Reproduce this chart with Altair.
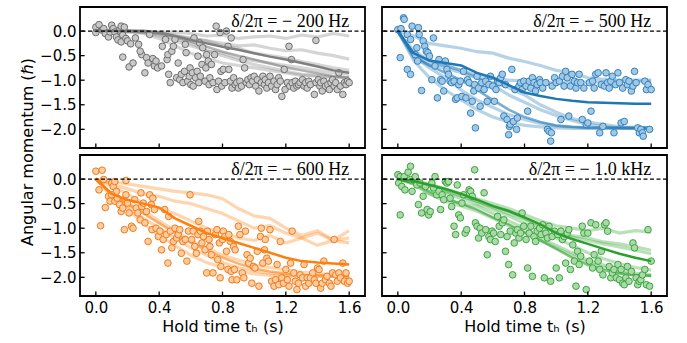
import altair as alt
import pandas as pd

# ---------------- data ----------------
T_GRID = [0.0, 0.1, 0.2, 0.3, 0.4, 0.5, 0.6, 0.7, 0.8, 0.9, 1.0, 1.1, 1.2, 1.3, 1.4, 1.5, 1.6]

PANELS = ["p200", "p500", "p600", "p1k"]
LABELS = {"p200": "δ/2π = − 200 Hz", "p500": "δ/2π = − 500 Hz",
          "p600": "δ/2π = − 600 Hz", "p1k": "δ/2π = − 1.0 kHz"}
ROW = {"p200": 0, "p500": 0, "p600": 1, "p1k": 1}
COL = {"p200": 0, "p500": 1, "p600": 0, "p1k": 1}

PTS_200 = [
    (0.0, 0.08), (0.02, 0.13), (0.0, -0.03), (0.04, 0.02), (0.05, 0.05), (0.06, -0.05), (0.08, -0.12),
    (0.09, -0.02), (0.1, 0.12), (0.11, 0.05), (0.12, -0.02), (0.13, -0.12), (0.14, -0.18), (0.15, 0.02),
    (0.16, 0.1), (0.16, -0.22), (0.17, -0.08), (0.18, 0.08), (0.19, -0.15), (0.2, -0.2),
    (0.17, -0.53), (0.21, -0.73), (0.235, -0.65), (0.22, -0.26), (0.25, -0.14), (0.27, -0.27), (0.29, -0.48),
    (0.28, -0.41), (0.31, -0.85), (0.32, -0.54), (0.33, -0.65), (0.34, -0.07), (0.36, -0.56), (0.37, -0.71),
    (0.38, -0.61), (0.39, -0.75), (0.415, -0.71), (0.42, -0.31), (0.44, -0.17), (0.45, -0.58), (0.455, -0.48),
    (0.46, -0.88), (0.47, -1.05), (0.48, -0.41), (0.49, -0.31), (0.5, -0.17), (0.51, -0.95), (0.52, -0.65),
    (0.53, -0.99), (0.54, -0.88), (0.55, -1.05), (0.56, -0.82), (0.565, -0.27), (0.57, -0.44), (0.58, -1.02),
    (0.59, -0.92), (0.595, -0.75), (0.6, -1.09), (0.61, -0.85), (0.615, -1.12), (0.62, -0.14), (0.63, -0.95),
    (0.64, -0.82), (0.645, -0.51), (0.65, -1.05), (0.655, -0.24), (0.66, -0.92), (0.67, -0.68), (0.675, -0.34),
    (0.69, -1.02), (0.695, -0.75), (0.7, -0.48), (0.71, -0.61), (0.715, -1.09), (0.72, -0.95), (0.73, -0.68),
    (0.74, -1.05), (0.75, -0.48), (0.76, 0.1), (0.765, -1.19), (0.775, -1.02), (0.785, -0.03), (0.79, -0.82),
    (0.795, -1.12), (0.805, -0.78), (0.815, -1.05), (0.825, 0.0), (0.835, -0.31), (0.84, -0.78), (0.85, -1.02),
    (0.855, -0.14), (0.86, -1.16), (0.87, -0.95), (0.88, -1.09), (0.89, -1.05), (0.9, -1.16), (0.91, -1.02),
    (0.92, -1.12), (0.93, -0.58), (0.94, -0.75), (0.95, -1.05), (0.96, -0.99), (0.97, -1.09), (0.98, -0.95),
    (0.99, -1.02), (1.0, -0.92), (1.01, -1.12), (1.02, -0.99), (1.03, -1.22), (1.045, -1.05), (1.055, -0.92),
    (1.065, -1.09), (1.07, -0.99), (1.08, -1.16), (1.09, -1.05), (1.1, -0.92), (1.11, -1.12), (1.125, -1.02),
    (1.135, -1.19), (1.145, -1.09), (1.155, -0.95), (1.165, -1.02), (1.175, -1.33), (1.19, -0.78), (1.195, -1.19),
    (1.21, -1.05), (1.22, -0.31), (1.225, -1.12), (1.235, -0.58), (1.24, -1.05), (1.25, -1.16), (1.26, -1.02),
    (1.27, -1.12), (1.28, -1.09), (1.29, -1.05), (1.305, -0.99), (1.315, -1.12), (1.325, -1.05), (1.335, -1.16),
    (1.345, -1.02), (1.355, -1.09), (1.38, -1.29), (1.39, -1.05), (1.39, -0.19), (1.405, -0.99), (1.415, -1.12),
    (1.42, -1.05), (1.43, -1.22), (1.44, -1.02), (1.45, -1.12), (1.465, -1.09), (1.475, -1.19), (1.485, -1.05),
    (1.495, -0.99), (1.505, -1.12), (1.515, -1.05), (1.525, -1.19), (1.535, -0.85), (1.545, -1.12), (1.56, -1.29),
    (1.57, -1.05), (1.58, -1.09), (1.59, -1.02), (1.6, -1.05),
]

PTS_500 = [
    (0.036, 0.27), (0.04, 0.24), (0.0, 0.03), (0.02, 0.05), (0.015, -0.54), (0.06, -0.07), (0.08, -0.17),
    (0.09, 0.1), (0.06, -0.78), (0.08, -0.88), (0.11, -0.48), (0.12, -0.34), (0.13, 0.07), (0.135, -0.07),
    (0.125, -0.61), (0.15, -1.21), (0.16, -0.2), (0.17, -0.31), (0.18, -0.41), (0.19, -0.44), (0.2, -0.51),
    (0.215, -0.99), (0.225, -0.14), (0.235, -0.71), (0.25, -1.36), (0.26, -0.58), (0.27, -0.99), (0.28, -1.02),
    (0.29, -1.22), (0.3, -0.61), (0.31, -0.78), (0.32, -0.88), (0.33, -1.02), (0.34, -1.05), (0.355, -1.02),
    (0.365, -1.39), (0.375, -1.36), (0.385, -1.09), (0.395, -1.02), (0.405, -1.33), (0.415, -0.82), (0.43, -1.36),
    (0.44, -0.99), (0.45, -1.05), (0.46, -1.67), (0.47, -1.43), (0.48, -1.22), (0.485, -1.09), (0.49, -1.97),
    (0.5, -0.92), (0.51, -1.16), (0.52, -1.53), (0.53, -1.05), (0.545, -1.19), (0.555, -1.02), (0.565, -1.43),
    (0.575, -1.09), (0.585, -0.92), (0.6, -1.12), (0.61, -1.43), (0.62, -1.19), (0.63, -1.02), (0.64, -1.05),
    (0.65, -0.95), (0.66, -0.88), (0.67, -1.73), (0.68, -1.09), (0.69, -1.8), (0.7, -2.11), (0.705, -1.94),
    (0.71, -1.9), (0.72, -0.78), (0.73, -1.84), (0.74, -1.19), (0.75, -2.0), (0.755, -1.77), (0.765, -1.12),
    (0.775, -1.05), (0.785, -1.19), (0.795, -1.02), (0.81, -1.12), (0.82, -1.63), (0.83, -1.02), (0.84, -1.16),
    (0.85, -0.95), (0.86, -1.05), (0.87, -1.22), (0.88, -1.09), (0.895, -0.99), (0.9, -1.05), (0.915, -1.16),
    (0.935, -1.05), (0.945, -2.0), (0.955, -2.04), (0.965, -2.24), (0.97, -2.07), (0.975, -1.12), (0.99, -0.95),
    (1.0, -1.05), (1.02, -1.02), (1.03, -1.8), (1.04, -0.92), (1.05, -1.12), (1.06, -0.82), (1.07, -0.95),
    (1.08, -1.73), (1.09, -1.12), (1.1, -0.88), (1.115, -1.02), (1.125, -1.16), (1.135, -1.05), (1.145, -0.88),
    (1.155, -1.05), (1.165, -1.8), (1.175, -1.16), (1.19, -1.9), (1.2, -1.87), (1.21, -1.05), (1.22, -1.63),
    (1.23, -1.02), (1.24, -1.16), (1.25, -0.88), (1.265, -0.85), (1.275, -2.07), (1.285, -1.09), (1.295, -1.94),
    (1.305, -1.12), (1.315, -0.85), (1.325, -1.05), (1.335, -1.16), (1.345, -1.02), (1.355, -0.92), (1.365, -2.07),
    (1.375, -1.09), (1.39, -0.85), (1.4, -1.05), (1.41, -1.87), (1.42, -1.16), (1.43, -1.84), (1.44, -0.99),
    (1.45, -1.09), (1.46, -1.02), (1.475, -1.22), (1.485, -1.12), (1.495, -0.82), (1.505, -1.05), (1.515, -1.97),
    (1.525, -2.07), (1.535, -2.0), (1.545, -2.07), (1.55, -2.14), (1.56, -1.02), (1.57, -1.19), (1.58, -1.09),
    (1.59, -2.0), (1.6, -1.19),
]

PTS_600 = [
    (0.0, 0.16), (0.04, 0.18), (0.05, -0.01), (0.02, -0.22), (0.03, -0.95), (0.06, -0.58), (0.08, -0.35),
    (0.1, -0.08), (0.11, -0.15), (0.12, -0.05), (0.13, -0.25), (0.1, -0.32), (0.09, -0.45), (0.12, -0.45),
    (0.135, -0.39), (0.15, -0.52), (0.16, -0.66), (0.17, -0.59), (0.18, -1.03), (0.19, -0.03), (0.19, -0.32),
    (0.2, -0.49), (0.21, -0.69), (0.225, -0.96), (0.235, -1.0), (0.245, -0.42), (0.255, -0.59), (0.265, -0.69),
    (0.28, -0.83), (0.285, -0.28), (0.29, -0.56), (0.3, -0.49), (0.31, -0.89), (0.32, -0.66), (0.33, -1.27),
    (0.34, -0.32), (0.35, -0.52), (0.355, -1.03), (0.36, -0.39), (0.37, -0.62), (0.38, -1.0), (0.395, -1.17),
    (0.405, -1.06), (0.415, -1.44), (0.425, -1.23), (0.435, -0.62), (0.445, -1.13), (0.455, -1.71), (0.46, -0.76),
    (0.47, -1.06), (0.48, -1.4), (0.49, -1.27), (0.5, -1.0), (0.51, -1.2), (0.52, -1.13), (0.53, -1.03),
    (0.54, -1.51), (0.55, -1.27), (0.565, -1.23), (0.575, -1.67), (0.585, -1.06), (0.595, -0.32), (0.605, -1.23),
    (0.615, -1.06), (0.625, -1.37), (0.635, -1.51), (0.645, -1.13), (0.65, -0.86), (0.66, -1.06), (0.67, -1.3),
    (0.68, -1.17), (0.69, -1.44), (0.7, -1.91), (0.705, -1.06), (0.715, -1.23), (0.72, -1.37), (0.73, -1.54),
    (0.74, -1.91), (0.755, -1.13), (0.765, -1.03), (0.77, -1.64), (0.78, -1.3), (0.785, -2.01), (0.79, -1.78),
    (0.8, -1.23), (0.805, -1.06), (0.815, -1.17), (0.825, -1.47), (0.835, -1.84), (0.84, -1.13), (0.85, -1.27),
    (0.855, -1.88), (0.86, -2.05), (0.87, -1.37), (0.875, -1.84), (0.88, -1.44), (0.89, -2.05), (0.9, -0.96),
    (0.91, -1.13), (0.925, -1.91), (0.935, -2.01), (0.945, -1.06), (0.955, -1.54), (0.965, -1.71), (0.975, -1.61),
    (0.985, -2.12), (0.995, -1.78), (1.005, -1.81), (1.02, -1.47), (1.03, -2.18), (1.04, -1.17), (1.045, -1.0),
    (1.055, -1.71), (1.065, -1.44), (1.07, -1.23), (1.08, -1.61), (1.09, -1.67), (1.1, -1.03), (1.11, -2.08),
    (1.125, -2.18), (1.135, -2.05), (1.145, -1.74), (1.155, -2.15), (1.165, -1.27), (1.175, -2.01), (1.185, -2.12),
    (1.2, -1.84), (1.21, -2.05), (1.22, -2.18), (1.23, -1.71), (1.24, -1.06), (1.25, -1.91), (1.26, -2.08),
    (1.27, -2.25), (1.28, -2.12), (1.29, -1.95), (1.305, -2.01), (1.315, -1.74), (1.325, -2.18), (1.335, -2.01),
    (1.345, -2.12), (1.355, -2.01), (1.37, -1.91), (1.38, -2.05), (1.39, -2.12), (1.4, -1.81), (1.41, -1.84),
    (1.42, -2.22), (1.43, -2.12), (1.44, -1.67), (1.45, -2.05), (1.46, -1.98), (1.475, -2.12), (1.485, -2.18),
    (1.495, -1.91), (1.505, -1.23), (1.515, -1.95), (1.525, -2.08), (1.535, -1.91), (1.545, -2.01), (1.56, -1.71),
    (1.57, -2.08), (1.58, -1.91), (1.59, -2.12), (1.6, -2.08),
]

PTS_1K = [
    (0.0, 0.09), (0.015, 0.05), (0.04, 0.05), (0.005, -0.08), (0.025, -0.15), (0.045, -0.22), (0.015, -0.73),
    (0.065, 0.14), (0.08, 0.26), (0.08, -0.01), (0.09, -0.25), (0.11, 0.05), (0.12, -0.12), (0.13, -0.52),
    (0.14, -0.08), (0.15, -0.69), (0.16, -0.35), (0.175, -0.15), (0.185, -0.62), (0.195, -0.73), (0.205, -0.66),
    (0.215, -0.08), (0.225, -0.18), (0.235, 0.05), (0.245, -0.32), (0.26, -0.25), (0.27, -0.62), (0.28, -0.32),
    (0.29, -0.42), (0.3, -0.05), (0.31, -0.08), (0.32, -0.05), (0.33, -0.39), (0.34, -0.56), (0.355, -0.96),
    (0.365, -1.13), (0.375, -0.12), (0.385, -0.73), (0.395, -0.79), (0.405, -0.49), (0.415, -0.32), (0.425, -1.1),
    (0.435, -1.03), (0.45, -0.22), (0.46, -0.25), (0.47, -0.35), (0.485, 0.19), (0.49, -0.89), (0.5, -0.96),
    (0.51, -1.2), (0.52, -1.0), (0.53, -1.1), (0.545, -0.28), (0.555, -1.03), (0.565, -1.54), (0.575, -1.17),
    (0.585, -1.23), (0.595, -1.06), (0.605, -1.1), (0.615, -1.27), (0.63, -0.76), (0.64, -0.96), (0.65, -1.13),
    (0.66, -0.89), (0.67, -0.83), (0.68, -1.47), (0.69, -1.17), (0.7, -1.74), (0.71, -1.06), (0.725, -1.95),
    (0.735, -1.3), (0.745, -1.1), (0.755, -1.03), (0.765, -1.2), (0.775, -1.1), (0.785, -0.69), (0.795, -0.96),
    (0.81, -1.23), (0.82, -1.81), (0.83, -1.1), (0.84, -0.96), (0.85, -1.98), (0.86, -1.17), (0.87, -1.27),
    (0.88, -1.06), (0.895, -1.0), (0.905, -1.13), (0.915, -0.93), (0.925, -2.01), (0.935, -1.1), (0.945, -1.2),
    (0.955, -0.96), (0.965, -2.08), (0.975, -1.17), (0.99, -1.06), (1.0, -1.81), (1.01, -1.13), (1.02, -2.01),
    (1.03, -1.06), (1.04, -1.23), (1.05, -1.17), (1.06, -1.71), (1.07, -1.1), (1.08, -1.03), (1.09, -1.84),
    (1.105, -1.34), (1.115, -1.67), (1.125, -2.18), (1.135, -1.47), (1.145, -1.74), (1.155, -1.57), (1.165, -0.96),
    (1.175, -1.1), (1.19, -2.25), (1.2, -1.1), (1.21, -1.67), (1.22, -0.89), (1.23, -1.81), (1.24, -1.54),
    (1.25, -0.93), (1.265, -1.67), (1.275, -1.84), (1.285, -1.47), (1.295, -1.95), (1.305, -0.93), (1.315, -0.89),
    (1.325, -1.06), (1.335, -1.78), (1.345, -2.01), (1.355, -1.91), (1.365, -1.84), (1.38, -2.01), (1.39, -1.74),
    (1.4, -2.05), (1.41, -1.84), (1.42, -2.12), (1.43, -2.15), (1.44, -2.01), (1.45, -1.78), (1.46, -2.08),
    (1.475, -1.88), (1.485, -1.3), (1.495, -1.4), (1.505, -2.01), (1.515, -2.15), (1.525, -2.08), (1.535, -2.05),
    (1.545, -1.95), (1.56, -1.84), (1.57, -2.15), (1.58, -1.03), (1.59, -2.18), (1.6, -1.67),
]

# simulated trajectories (faint), sampled on T_GRID
SIM_200 = [
    [0, 0, 0, 0, -0.02, -0.02, -0.05, -0.1, -0.08, -0.15, -0.12, -0.1, -0.15, -0.08, -0.12, -0.05, -0.1],
    [0, 0, 0, -0.02, -0.05, -0.1, -0.15, -0.2, -0.25, -0.3, -0.28, -0.35, -0.4, -0.38, -0.45, -0.5, -0.57],
    [0, 0, 0, -0.03, -0.1, -0.2, -0.3, -0.4, -0.45, -0.55, -0.6, -0.65, -0.7, -0.75, -0.8, -0.85, -0.88],
    [0, 0, -0.02, -0.05, -0.15, -0.3, -0.45, -0.55, -0.65, -0.7, -0.75, -0.8, -0.85, -0.9, -0.92, -0.95, -0.95],
    [0, 0, 0, -0.02, -0.08, -0.15, -0.25, -0.4, -0.5, -0.6, -0.68, -0.75, -0.82, -0.88, -0.9, -0.93, -0.95],
    [0, 0, 0, 0, -0.03, -0.08, -0.15, -0.2, -0.3, -0.35, -0.45, -0.5, -0.55, -0.62, -0.68, -0.75, -0.8],
]
MED_200 = [0, 0, 0, -0.01, -0.05, -0.12, -0.22, -0.32, -0.42, -0.5, -0.58, -0.66, -0.74, -0.8, -0.86, -0.92, -0.95]
MEAN_200 = [0, 0, 0, 0, -0.03, -0.1, -0.18, -0.25, -0.32, -0.38, -0.45, -0.52, -0.58, -0.65, -0.72, -0.8, -0.85]

SIM_500 = [
    [0, -0.1, -0.25, -0.3, -0.35, -0.42, -0.45, -0.55, -0.62, -0.7, -0.8, -0.85, -0.95, -0.98, -1.0, -1.0, -1.0],
    [0, -0.6, -0.95, -1.2, -1.4, -1.6, -1.75, -1.85, -1.92, -1.95, -1.97, -1.98, -1.98, -1.98, -1.98, -1.98, -1.98],
    [0, -0.5, -0.75, -0.95, -1.2, -1.4, -1.55, -1.7, -1.8, -1.88, -1.93, -1.95, -1.97, -1.97, -1.98, -1.98, -1.98],
    [0, -0.4, -0.6, -0.7, -0.8, -0.95, -1.1, -1.3, -1.45, -1.6, -1.72, -1.82, -1.9, -1.95, -1.97, -1.98, -1.98],
    [0, -0.5, -0.65, -0.7, -0.8, -0.9, -0.95, -1.0, -1.02, -1.05, -1.05, -1.03, -1.04, -1.03, -1.02, -1.03, -1.02],
    [0, -0.55, -0.7, -0.75, -0.85, -0.95, -1.05, -1.15, -1.3, -1.5, -1.65, -1.78, -1.85, -1.9, -1.95, -1.96, -1.97],
]
MED_500 = [0, -0.5, -0.7, -0.85, -1.0, -1.2, -1.4, -1.6, -1.75, -1.85, -1.92, -1.95, -1.97, -1.97, -1.97, -1.97, -1.97]
MEAN_500 = [0, -0.45, -0.6, -0.65, -0.7, -0.85, -0.95, -1.1, -1.25, -1.32, -1.38, -1.42, -1.45, -1.46, -1.47, -1.48, -1.48]

SIM_600 = [
    [0, -0.05, -0.1, -0.15, -0.2, -0.25, -0.28, -0.32, -0.4, -0.6, -0.75, -0.8, -1.0, -1.15, -1.05, -1.25, -1.05],
    [0, -0.1, -0.2, -0.3, -0.35, -0.45, -0.5, -0.6, -0.7, -0.85, -1.0, -0.95, -1.1, -1.2, -1.1, -1.25, -1.2],
    [0, -0.15, -0.3, -0.5, -0.6, -0.7, -0.85, -1.0, -1.1, -1.2, -1.25, -1.15, -1.3, -1.2, -1.35, -1.25, -1.3],
    [0, -0.3, -0.55, -0.8, -1.0, -1.2, -1.4, -1.55, -1.7, -1.8, -1.87, -1.92, -1.95, -1.97, -1.98, -1.98, -1.98],
    [0, -0.35, -0.6, -0.9, -1.15, -1.35, -1.55, -1.7, -1.8, -1.88, -1.93, -1.96, -1.97, -1.98, -1.98, -1.98, -1.98],
    [0, -0.3, -0.5, -0.65, -0.85, -1.05, -1.25, -1.4, -1.55, -1.65, -1.75, -1.8, -1.85, -1.9, -1.92, -1.95, -1.97],
]
MED_600 = [0, -0.3, -0.5, -0.7, -0.9, -1.1, -1.3, -1.45, -1.6, -1.72, -1.82, -1.88, -1.92, -1.95, -1.96, -1.97, -1.97]
MEAN_600 = [0, -0.3, -0.42, -0.5, -0.58, -0.8, -0.95, -1.1, -1.2, -1.3, -1.4, -1.5, -1.6, -1.67, -1.7, -1.72, -1.74]

SIM_1K = [
    [0, -0.03, -0.1, -0.2, -0.3, -0.4, -0.5, -0.6, -0.72, -0.85, -0.95, -1.0, -1.05, -1.0, -1.1, -1.05, -1.08],
    [0, -0.05, -0.12, -0.22, -0.33, -0.45, -0.55, -0.65, -0.8, -0.95, -1.05, -1.15, -1.2, -1.28, -1.32, -1.38, -1.45],
    [0, -0.05, -0.15, -0.25, -0.35, -0.45, -0.58, -0.7, -0.82, -0.98, -1.08, -1.18, -1.25, -1.32, -1.38, -1.45, -1.52],
    [0, -0.1, -0.3, -0.45, -0.55, -0.65, -0.8, -0.95, -1.1, -1.25, -1.4, -1.55, -1.7, -1.8, -1.9, -1.95, -1.97],
    [0, -0.1, -0.3, -0.4, -0.5, -0.55, -0.7, -0.85, -1.0, -1.2, -1.35, -1.5, -1.65, -1.75, -1.85, -1.92, -1.95],
    [0, -0.05, -0.15, -0.28, -0.4, -0.5, -0.62, -0.75, -0.9, -1.05, -1.2, -1.35, -1.5, -1.62, -1.72, -1.8, -1.85],
]
MED_1K = [0, -0.08, -0.25, -0.4, -0.5, -0.62, -0.78, -0.92, -1.08, -1.25, -1.42, -1.6, -1.75, -1.85, -1.92, -1.96, -1.97]
MEAN_1K = [0, -0.04, -0.12, -0.2, -0.3, -0.42, -0.55, -0.65, -0.78, -0.92, -1.1, -1.22, -1.32, -1.42, -1.52, -1.6, -1.67]

X_TICKS = [0.0, 0.4, 0.8, 1.2, 1.6]
Y_TICKS = [0.0, -0.5, -1.0, -1.5, -2.0]

POINTS = {"p200": PTS_200, "p500": PTS_500, "p600": PTS_600, "p1k": PTS_1K}
SIMS = {"p200": SIM_200, "p500": SIM_500, "p600": SIM_600, "p1k": SIM_1K}
MEDS = {"p200": MED_200, "p500": MED_500, "p600": MED_600, "p1k": MED_1K}
MEANS = {"p200": MEAN_200, "p500": MEAN_500, "p600": MEAN_600, "p1k": MEAN_1K}

# ---------------- styles ----------------
LINE_COLOR = {"p200": "#7f7f7f", "p500": "#1f77b4", "p600": "#ff7f0e", "p1k": "#2ca02c"}
PT_FILL = {"p200": "#c9c9c9", "p500": "#a5c8e1", "p600": "#ffcc9f", "p1k": "#abd9ab"}
PT_EDGE = {"p200": "#6e6e6e", "p500": "#2f82c4", "p600": "#f07a1a", "p1k": "#3aa63a"}

XMIN, XMAX = -0.1, 1.7
YMIN, YMAX = -2.38, 0.49

# ---------------- build table ----------------
rows = []
for p in PANELS:
    base = {"panel": p, "prow": ROW[p], "pcol": COL[p], "lc": LINE_COLOR[p],
            "pf": PT_FILL[p], "pe": PT_EDGE[p]}
    for (t, v) in POINTS[p]:
        rows.append({**base, "kind": "pt", "lid": "pt", "t": t, "v": v})
    for i, line in enumerate(SIMS[p]):
        for t, v in zip(T_GRID, line):
            rows.append({**base, "kind": "sim", "lid": f"{p}_s{i}", "t": t, "v": v})
    for t, v in zip(T_GRID, MEDS[p]):
        rows.append({**base, "kind": "med", "lid": f"{p}_med", "t": t, "v": v})
    for t, v in zip(T_GRID, MEANS[p]):
        rows.append({**base, "kind": "mean", "lid": f"{p}_mean", "t": t, "v": v})
    rows.append({**base, "kind": "label", "lid": "lab", "t": 1.6, "v": 0.0, "text": LABELS[p]})
    for xt in X_TICKS:
        rows.append({**base, "kind": "xtick", "lid": "xt", "t": xt, "v": YMIN})
    for yt in Y_TICKS:
        rows.append({**base, "kind": "ytick", "lid": "yt", "t": XMIN, "v": yt})
df = pd.DataFrame(rows)

FONT = "DejaVu Sans"

x_enc = alt.X("t:Q", scale=alt.Scale(domain=[XMIN, XMAX], nice=False, zero=False),
              axis=alt.Axis(values=X_TICKS, format=".1f", title="Hold time tₕ (s)", labelOverlap=False))
y_enc = alt.Y("v:Q", scale=alt.Scale(domain=[YMIN, YMAX], nice=False, zero=False),
              axis=alt.Axis(values=Y_TICKS, format=".1f", title="", labelOverlap=False))

sim = alt.Chart().mark_line(strokeWidth=3.2, opacity=0.33).encode(
    x=x_enc, y=y_enc, detail="lid:N", color=alt.Color("lc:N", scale=None)
).transform_filter(alt.datum.kind == "sim")

med = alt.Chart().mark_line(strokeWidth=2.5, opacity=0.6).encode(
    x=x_enc, y=y_enc, detail="lid:N", color=alt.Color("lc:N", scale=None)
).transform_filter(alt.datum.kind == "med")

pts = alt.Chart().mark_circle(size=44, opacity=1, strokeWidth=1).encode(
    x=x_enc, y=y_enc, fill=alt.Fill("pf:N", scale=None), stroke=alt.Stroke("pe:N", scale=None)
).transform_filter(alt.datum.kind == "pt")

mean = alt.Chart().mark_line(strokeWidth=2.5, opacity=1).encode(
    x=x_enc, y=y_enc, detail="lid:N", color=alt.Color("lc:N", scale=None)
).transform_filter(alt.datum.kind == "mean")

# dashed zero line: one rule per panel at v = 0 (the label rows carry v = 0)
zero = alt.Chart().mark_rule(color="black", strokeDash=[4, 2.5], strokeWidth=1.3).encode(
    y=y_enc
).transform_filter(alt.datum.kind == "label")

label = alt.Chart().mark_text(align="right", baseline="alphabetic", font="Liberation Serif",
                              fontSize=18, color="black", dy=-4).encode(
    x=x_enc, y=y_enc, text="text:N"
).transform_filter(alt.datum.kind == "label")

xt = alt.Chart().mark_rule(color="black", strokeWidth=1.3).encode(
    x=x_enc, y=y_enc, y2=alt.datum(YMIN + 0.09)
).transform_filter(alt.datum.kind == "xtick")

yt = alt.Chart().mark_rule(color="black", strokeWidth=1.3).encode(
    x=x_enc, x2=alt.datum(XMIN + 0.029), y=y_enc
).transform_filter(alt.datum.kind == "ytick")

layered = alt.layer(sim, med, pts, mean, zero, label, xt, yt, data=df).properties(width=285, height=141)

chart = layered.facet(
    row=alt.Row("prow:O", header=alt.Header(labels=False, title="Angular momentum (ℏ)",
                                            titleFont=FONT, titleFontSize=16, titleFontWeight="normal",
                                            titleColor="black", titleOrient="left", titleAngle=270,
                                            titlePadding=-23, labelPadding=0)),
    column=alt.Column("pcol:O", header=alt.Header(labels=False, title="", labelPadding=0, titlePadding=0)),
    spacing={"row": 7, "column": 17},
    bounds="flush",
).configure_view(
    stroke="black", strokeWidth=1.8
).configure_axis(
    ticks=False, domain=False, grid=False, labelFont=FONT, labelFontSize=15, labelColor="black",
    titleFont=FONT, titleFontSize=16, titleFontWeight="normal", titleColor="black", labelPadding=4,
    titlePadding=3, labelOverlap=False
).properties(
    padding={"left": 19, "top": 6, "right": 5, "bottom": 5}, background="white"
)

chart.save("out.html", embed_options={"renderer": "svg", "actions": False})
